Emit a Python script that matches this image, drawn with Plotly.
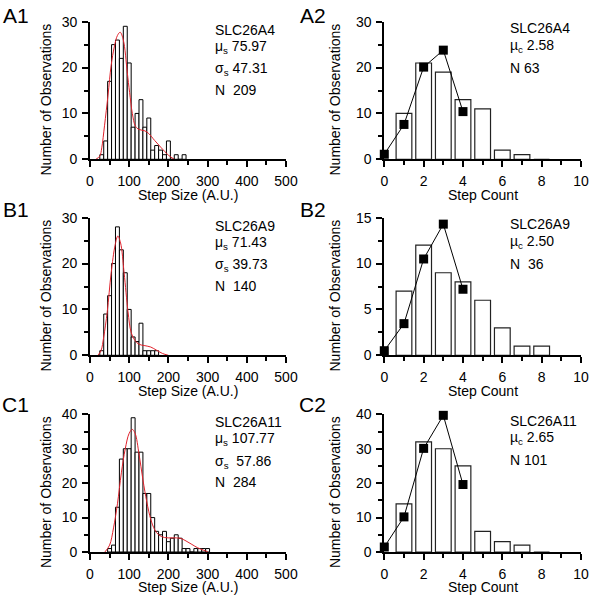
import plotly.graph_objects as go

W, H = 591, 600
FONT = "Liberation Sans, Arial, sans-serif"

# ---------------- data ----------------
# Step-size histograms (bin centres, A.U.) and counts
a1_bins = [30, 40, 50, 60, 70, 80, 90, 100, 110, 120, 130, 140, 150, 160, 170, 180, 190, 200, 210, 220, 230, 240]
a1_counts = [1, 4, 17, 25, 26, 22, 29, 21, 7, 10, 13, 7, 9, 2, 3, 2, 1, 4, 0, 1, 0, 1]

b1_bins = [30, 40, 50, 60, 70, 80, 90, 100, 110, 120, 130, 140, 150, 160, 170]
b1_counts = [1, 9, 13, 20, 28, 23, 18, 10, 4, 3, 7, 1, 1, 1, 1]

c1_bins = [50, 60, 70, 80, 90, 100, 110, 120, 130, 140, 150, 160, 170, 180, 190, 200, 210, 220, 230, 240, 250, 260, 270, 280, 290, 300]
c1_counts = [1, 2, 13, 27, 30, 30, 39, 29, 29, 17, 17, 10, 6, 5, 6, 3, 4, 5, 4, 1, 1, 0, 1, 1, 1, 1]

# Fitted curves
a1_fit_x = [15, 25, 30, 37, 46, 54, 62, 70, 77, 85, 95, 101, 108, 116, 125, 140, 150, 165, 182, 200, 215]
a1_fit_y = [0, 0.7, 2.5, 7.3, 14, 20.5, 24.5, 27, 27.7, 26, 19, 14.6, 10, 7.2, 6.5, 6.2, 5.6, 4.1, 2.5, 0.9, 0]

b1_fit_x = [20, 28, 35, 44, 54, 64, 71, 78, 87, 97, 105, 115, 125, 140, 155, 170, 185, 200]
b1_fit_y = [0, 1, 4, 9.5, 18, 24, 26, 24.5, 18, 9.5, 5, 3.2, 2.4, 2.1, 1.8, 1.1, 0.4, 0]

c1_fit_x = [38, 50, 60, 70, 80, 90, 100, 108, 115, 125, 135, 145, 155, 165, 175, 190, 210, 230, 245, 260, 275, 290, 300]
c1_fit_y = [0, 2, 7, 14, 23, 30, 34.5, 35.6, 34.5, 28.5, 21, 14.5, 9.5, 6.5, 5, 4.2, 4.1, 4.0, 3.2, 2.2, 1.2, 0.5, 0.1]

# Step-count histograms
step_counts = [1, 2, 3, 4, 5, 6, 7, 8]
a2_counts = [10, 21, 19, 13, 11, 2, 1, 0]
b2_counts = [7, 12, 9, 8, 6, 3, 1, 1]
c2_counts = [14, 32, 30, 25, 6, 3, 2, 0]

# Model points (black squares)
model_x = [0, 1, 2, 3, 4]
a2_model = [1.1, 7.6, 20.1, 23.8, 10.4]
b2_model = [0.5, 3.45, 10.5, 14.3, 7.2]
c2_model = [1.45, 10.2, 30.1, 39.7, 19.6]

# Panel texts
panel_labels = ["A1", "A2", "B1", "B2", "C1", "C2"]
stats_col1 = [
    ["SLC26A4", "\u03bc<sub>s</sub> 75.97", "\u03c3<sub>s</sub> 47.31", "N\u00a0 209"],
    ["SLC26A9", "\u03bc<sub>s</sub> 71.43", "\u03c3<sub>s</sub> 39.73", "N\u00a0 140"],
    ["SLC26A11", "\u03bc<sub>s</sub> 107.77", "\u03c3<sub>s</sub>\u00a0 57.86", "N\u00a0 284"],
]
stats_col2 = [
    ["SLC26A4", "\u00b5<sub>c</sub> 2.58", "N 63"],
    ["SLC26A9", "\u00b5<sub>c</sub> 2.50", "N\u00a0 36"],
    ["SLC26A11", "\u00b5<sub>c</sub> 2.65", "N 101"],
]
x_titles = ["Step Size (A.U.)", "Step Count"]
y_title = "Number of Observations"

# y ranges / ticks per panel
y_ranges = [[0, 30], [0, 30], [0, 30], [0, 15], [0, 40], [0, 40]]
y_dticks = [10, 10, 10, 5, 10, 10]
y_minor = [5, 5, 5, 2.5, 5, 5]

# ---------------- layout geometry (pixels) ----------------
col_x = [(90, 286), (384.3, 581)]
row_y = [(21.7, 159.3), (217.7, 355.3), (414.3, 552)]
xtitle_off = [36, 36, 34.5]


def fx(px):
    return px / W


def fy(py):
    return 1 - py / H


fig = go.Figure()

hist_bins = [a1_bins, b1_bins, c1_bins]
hist_counts = [a1_counts, b1_counts, c1_counts]
fits_x = [a1_fit_x, b1_fit_x, c1_fit_x]
fits_y = [a1_fit_y, b1_fit_y, c1_fit_y]
sc_counts = [a2_counts, b2_counts, c2_counts]
models = [a2_model, b2_model, c2_model]

layout_axes = {}
annotations = []

tickfont = dict(family=FONT, size=14, color="black")

for r in range(3):
    for c in range(2):
        i = r * 2 + c + 1
        xa = "x" if i == 1 else f"x{i}"
        ya = "y" if i == 1 else f"y{i}"
        if c == 0:
            fig.add_trace(go.Bar(
                x=hist_bins[r], y=hist_counts[r], width=10,
                marker=dict(color="white", line=dict(color="black", width=1)),
                xaxis=xa, yaxis=ya, showlegend=False, hoverinfo="x+y"))
            fig.add_trace(go.Scatter(
                x=fits_x[r], y=fits_y[r], mode="lines",
                line=dict(color="#e0222c", width=1, shape="spline", smoothing=1.0),
                xaxis=xa, yaxis=ya, showlegend=False))
            xr, xd, xm = [0, 500], 100, 50
        else:
            fig.add_trace(go.Bar(
                x=step_counts, y=sc_counts[r], width=0.8,
                marker=dict(color="white", line=dict(color="#222222", width=1.2)),
                xaxis=xa, yaxis=ya, showlegend=False))
            fig.add_trace(go.Scatter(
                x=model_x, y=models[r], mode="lines+markers",
                line=dict(color="black", width=1),
                marker=dict(symbol="square", size=9, color="black"),
                cliponaxis=False,
                xaxis=xa, yaxis=ya, showlegend=False))
            xr, xd, xm = [0, 10], 2, 1

        x0, x1 = col_x[c]
        y0, y1 = row_y[r]
        common = dict(
            showline=True, linecolor="black", linewidth=1.8, mirror=False,
            ticks="outside", ticklen=6, tickwidth=1.5, tickcolor="black",
            showgrid=False, zeroline=False, tickfont=tickfont,
            automargin=False,
        )
        layout_axes["xaxis" if i == 1 else f"xaxis{i}"] = dict(
            domain=[fx(x0), fx(x1)], range=xr, tick0=0, dtick=xd,
            anchor=ya, ticklabelstandoff=2,
            minor=dict(dtick=xm, tick0=0, ticks="outside", ticklen=4, tickwidth=1.5, tickcolor="black"),
            **common)
        layout_axes["yaxis" if i == 1 else f"yaxis{i}"] = dict(
            domain=[fy(y1), fy(y0)], range=y_ranges[i - 1], tick0=0, dtick=y_dticks[i - 1],
            anchor=xa, ticklabelstandoff=2,
            minor=dict(dtick=y_minor[i - 1], tick0=0, ticks="outside", ticklen=4, tickwidth=1.5, tickcolor="black"),
            **common)

        # panel label
        lab_x = 15.7 if c == 0 else 312.5
        lab_y = [15, 209, 404][r]
        annotations.append(dict(
            text=panel_labels[i - 1], x=fx(lab_x), y=fy(lab_y), xref="paper", yref="paper",
            xanchor="center", yanchor="middle", showarrow=False,
            font=dict(family=FONT, size=21, color="black")))

        # y title
        yt_x = 46 if c == 0 else 335
        annotations.append(dict(
            text=y_title, x=fx(yt_x), y=fy(y0 + 77.8), xref="paper", yref="paper",
            xanchor="center", yanchor="middle", textangle=-90, showarrow=False,
            font=dict(family=FONT, size=14, color="black")))
        # x title
        annotations.append(dict(
            text=x_titles[c], x=fx((x0 + x1) / 2), y=fy(y1 + xtitle_off[r]), xref="paper", yref="paper",
            xanchor="center", yanchor="middle", showarrow=False,
            font=dict(family=FONT, size=14, color="black")))

        # stats text
        if c == 0:
            lines = stats_col1[r]
            offs = [8, 25, 47.5, 68]
            sx = 213
        else:
            lines = stats_col2[r]
            offs = [6.5, 24, 46]
            sx = 508
        for t, o in zip(lines, offs):
            annotations.append(dict(
                text=t, x=fx(sx), y=fy(y0 + o), xref="paper", yref="paper",
                xanchor="left", yanchor="middle", showarrow=False,
                font=dict(family=FONT, size=14, color="black")))

fig.update_layout(
    width=W, height=H,
    margin=dict(l=0, r=0, t=0, b=0),
    paper_bgcolor="white", plot_bgcolor="white",
    showlegend=False,
    font=dict(family=FONT, size=14, color="black"),
    annotations=annotations,
    **layout_axes,
)

fig.write_html(
    "out.html",
    config={"displayModeBar": False},
    post_script="document.body.style.margin='0';document.body.style.overflow='hidden';",
)
